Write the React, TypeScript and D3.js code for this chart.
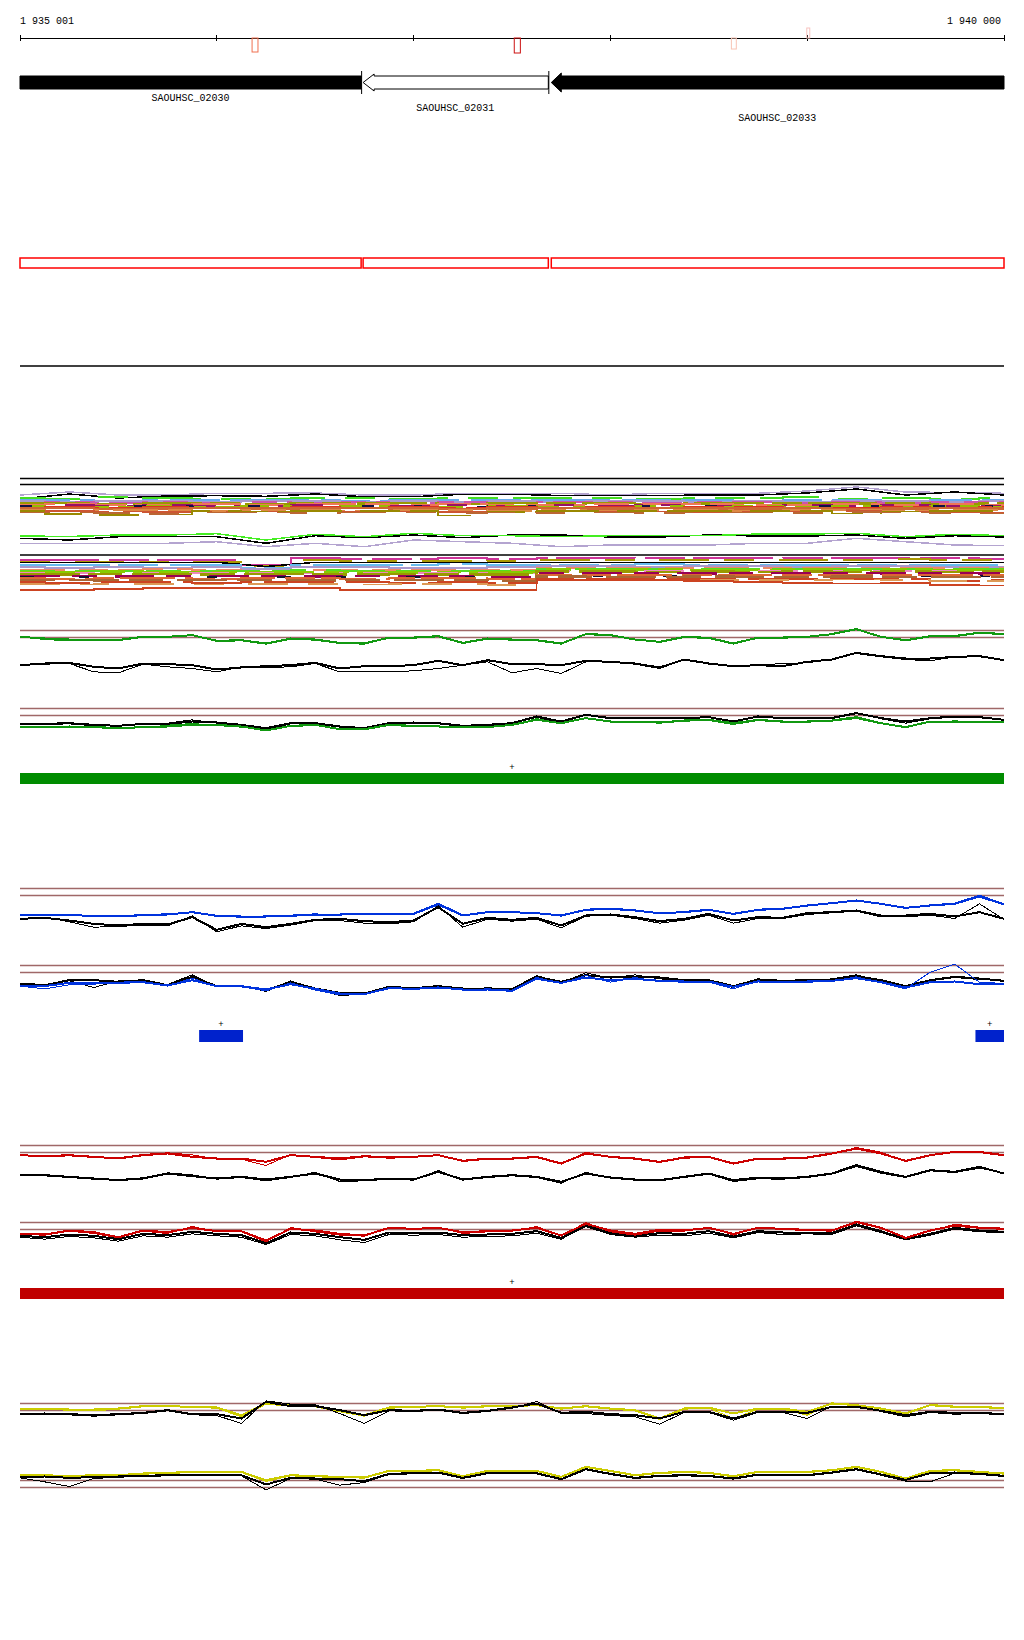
import React from 'react';
import * as d3 from 'd3';

// ==== view window and axis

const VIEW_START = 1935001;
const VIEW_END = 1940000;
const tickValues = [1935001, 1936000, 1937000, 1938000, 1939000, 1940000];
const endLabels = ['1 935 001', '1 940 000'];

// ==== genes and small features

const geneNames = ['SAOUHSC_02030', 'SAOUHSC_02031', 'SAOUHSC_02033'];
const geneStarts = [1934200, 1936739, 1937695];
const geneEnds = [1936734, 1937685, 1940600];
const geneFilled = [true, false, true];

const markerStarts = [1936180, 1937512, 1938615, 1938998];
const markerEnds = [1936210, 1937543, 1938640, 1939013];

const greenFeatStarts = [1935001];
const greenFeatEnds = [1940000];
const blueFeatStarts = [1935911, 1939855];
const blueFeatEnds = [1936134, 1940000];
const redFeatStarts = [1935001];
const redFeatEnds = [1940000];

// ==== signal tracks, 41 readings each (depth under upper reference, 1/3 px units)

const gAcol = [19,24,27,27,29,19,19,14,31,29,39,24,27,37,39,21,21,17,37,24,27,29,39,11,14,27,34,19,22,39,21,21,19,11,-4,19,29,17,17,7,11];
const gAcolThin = [19,27,31,31,27,17,21,12,33,31,41,26,29,39,41,23,23,19,39,26,29,31,41,9,12,27,36,21,24,41,23,23,21,9,-6,19,31,19,15,5,9];
const gAblk = [104,99,97,109,114,99,101,104,117,111,107,104,97,114,107,107,104,91,104,89,101,101,104,91,94,99,111,87,99,107,104,107,94,87,67,77,84,84,79,77,89];
const gAblkThin = [104,101,99,124,127,101,109,114,124,109,111,109,99,124,124,124,121,114,104,94,127,114,129,94,94,101,114,87,101,107,104,99,97,87,69,79,87,91,79,79,89];

const gBblk = [46,46,44,49,52,46,46,39,42,49,59,44,44,54,59,44,42,44,52,49,44,24,39,19,29,29,29,29,26,39,24,29,29,29,14,29,39,29,24,26,34];
const gBblkThin = [44,48,46,52,50,48,44,34,44,52,64,46,46,56,62,46,44,46,54,51,46,26,44,17,31,27,31,31,24,43,22,31,31,27,12,31,44,31,26,28,32];
const gBcol = [56,56,54,56,59,56,54,49,49,54,66,52,49,62,62,49,52,54,56,56,49,34,44,29,39,39,42,36,34,44,34,39,39,36,26,44,56,39,39,39,42];
const gBcolThin = [54,58,56,54,57,58,50,45,51,56,64,54,51,60,64,51,54,52,58,54,51,30,46,27,41,41,44,38,36,48,36,41,41,38,30,46,54,41,37,41,40];

const bAcol = [79,80,80,82,84,80,78,71,82,84,84,82,78,78,76,76,76,48,81,71,71,74,81,64,61,66,74,71,64,76,64,61,51,44,36,46,58,51,46,24,48];
const bAcolThin = [77,80,82,80,82,78,76,70,84,86,82,80,76,80,74,74,74,44,79,73,73,72,83,62,59,64,76,69,62,78,62,59,53,42,38,44,60,49,44,20,46];
const bAblk = [91,88,96,106,111,106,108,86,124,106,116,106,94,91,98,101,96,56,106,88,94,88,111,81,78,86,98,91,76,96,86,88,74,71,66,81,81,76,84,71,91];
const bAblkThin = [93,86,100,116,114,110,112,82,130,112,120,110,96,96,104,106,100,52,116,92,98,92,118,83,80,90,104,95,80,104,90,90,78,73,68,85,85,80,90,46,93];

const bBblk = [54,59,44,44,49,44,59,34,62,62,74,49,69,82,84,64,69,62,69,69,72,34,49,29,36,34,36,44,44,62,42,46,44,42,32,44,62,44,34,39,46];
const bBblkThin = [56,57,46,66,46,46,57,28,64,60,78,46,71,90,86,62,67,60,71,67,70,30,52,22,38,28,40,46,46,66,40,48,46,40,28,48,66,46,36,42,44];
const bBcol = [62,62,52,52,52,50,60,44,62,62,72,56,70,84,86,68,70,66,72,72,76,40,52,36,44,40,46,48,48,64,48,50,48,46,38,50,66,50,48,56,56];
const bBcolThin = [62,70,58,56,50,48,62,38,64,64,76,52,74,88,86,66,72,64,74,70,74,36,54,30,50,36,48,50,50,70,46,52,50,48,34,52,70,20,-4,50,54];

const rAcol = [29,32,29,34,39,29,24,34,39,39,49,29,34,39,32,36,34,29,46,39,39,34,54,24,34,39,49,36,34,54,39,39,36,24,9,24,46,29,19,19,29];
const rAcolThin = [29,34,31,36,37,27,22,28,41,41,60,27,36,43,34,38,36,27,48,41,41,36,56,20,36,41,51,38,36,56,41,41,38,26,6,20,48,31,17,21,31];
const rAblk = [89,89,94,99,104,99,84,92,99,94,102,94,84,102,104,99,102,79,102,94,89,94,109,84,96,102,104,94,84,104,96,99,94,84,59,79,94,74,79,64,84];
const rAblkThin = [87,91,96,101,102,97,82,88,101,96,106,96,80,108,106,101,104,75,104,96,91,96,113,80,98,104,106,96,86,108,100,101,96,86,63,83,96,76,81,68,82];

const rBcol = [34,36,24,29,44,24,29,16,26,26,54,19,24,34,39,16,19,16,29,26,24,16,39,4,24,34,22,24,16,34,16,19,22,24,-1,16,46,24,9,16,19];
const rBcolThin = [36,38,26,33,46,26,33,12,28,28,58,15,28,38,41,14,21,14,33,28,26,12,41,0,28,38,26,26,14,38,14,21,24,26,-4,14,48,26,5,14,17];
const rBblk = [40,44,36,40,50,34,38,28,34,38,62,30,34,44,52,30,32,30,38,36,34,26,46,8,32,40,32,34,26,42,26,30,30,32,6,26,50,34,16,24,28];
const rBblkThin = [44,50,42,46,56,40,44,34,40,44,66,36,40,52,60,36,38,36,44,42,40,32,50,12,36,44,38,40,32,46,30,36,34,36,10,30,52,38,20,28,30];

const yAcol = [15,15,18,18,15,8,8,10,12,35,0,5,8,20,35,12,10,8,12,8,8,5,15,8,15,20,45,15,12,30,15,15,25,0,5,15,30,5,10,10,15];
const yAcolThin = [18,18,20,22,17,10,6,12,14,40,2,8,10,25,38,14,12,6,14,10,6,3,17,10,17,22,48,17,14,45,17,17,35,-2,3,17,32,3,8,8,13];
const yAblk = [32,30,32,35,32,28,20,32,32,45,-5,8,8,20,35,20,22,18,28,22,12,0,28,25,32,35,45,25,25,45,25,25,28,10,10,22,35,25,28,28,32];
const yAblkThin = [32,32,34,38,34,30,22,34,36,60,-8,2,4,30,60,22,24,20,30,24,14,-6,30,30,36,40,62,27,27,50,27,27,45,8,8,24,40,27,32,30,34];

const yBcol = [-16,-16,-13,-16,-16,-21,-23,-26,-26,-26,-1,-16,-13,-11,-9,-29,-29,-31,-13,-29,-29,-29,-11,-41,-29,-16,-23,-26,-23,-13,-26,-26,-26,-31,-41,-26,-6,-29,-31,-26,-21];
const yBcolThin = [-14,-14,-11,-14,-14,-19,-21,-24,-24,-24,3,-14,-11,-9,-7,-27,-27,-29,-11,-27,-27,-27,-9,-39,-27,-14,-21,-24,-21,-11,-24,-24,-24,-29,-39,-24,-4,-27,-29,-24,-19];
const yBblk = [-10,-12,-8,-10,-12,-14,-16,-18,-18,-16,12,-8,-6,-4,2,-20,-22,-24,-8,-22,-22,-22,-4,-34,-20,-8,-14,-16,-14,-6,-18,-18,-16,-24,-34,-18,-2,-22,-24,-20,-14];
const yBblkThin = [-8,4,18,-6,-10,-12,-14,-16,-16,-14,28,-6,-4,14,6,-18,-20,-22,-6,-20,-20,-20,-2,-32,-18,-6,-12,-14,-12,-4,-16,-16,-14,-22,-32,-16,2,4,-22,-18,-12];

// ==== dense expression bands, 21 readings each (px under band top)

const b1lavTop = [5,2,5,5,3.3,3.3,3,5,5,3.3,3.3,3.3,5,3.3,3.3,3.3,1,-3,2,2.5,3.3];
const b1black = [9,4,8,6,5.7,6.3,4,6.7,6.7,4.3,4.3,5.5,5.5,5.5,5,5,3,-1,5,2,5];
const b1green = [8,8.5,7,8,9,8.5,8,8,9,8,7.5,8,7.5,8.5,8,8,7,8.5,8,9,8];
const b1blue = [9.5,10,10.5,9.5,10,10,9.5,10.5,9.5,10,10,9.5,10,9.5,9.5,10.5,10,10,10.5,9.5,10];
const b1lav = [11,11.5,10.5,11,11.5,11,11,11.5,11,12,11,11.5,11,11,11.5,11,12,10.5,11,11.5,11];
const b1pink = [12.5,12,13,12,12.5,12,12.5,12,13,12,12.5,12,12,12.5,12,12,13,12,12.5,12,12];
const b1olive = [13.5,13,14,13.5,13,14,13,13.5,13,14,13,13.5,13,14,13.5,13,13,13.5,13,14,13.5];
const b1salmon = [14.5,14,14.5,15,14,14.5,14,14,14.5,14,15,14.5,14,14,14,14.5,15,14,14.5,14,14.5];
const b1plum = [15.5,15,15.5,15,16,15.5,15,15.5,16,15,15.5,15,15.5,15,16,15.5,15,15.5,15,15.5,16];
const b1lime = [16,16.5,16.5,16,16.5,16,17,16,16.5,16.5,16,17,16.5,16,16.5,16,17,16,16.5,16,16.5];
const b1navy = [16,16.5,16,16,16.5,16,16.5,16,16,16.5,16,16,16.5,16,16,16.5,16,16,16.5,16,16];
const b1red = [17.5,17,17.5,17,17.5,17.5,17,17.5,17,17.5,17,17.5,17,17.5,17,17,17.5,17.5,17,17.5,17];
const b1orange = [18.5,18,19,18.5,18,18.5,18.5,18,18.5,19,18.5,18,18.5,18,18.5,18.5,18,19,18.5,18,18.5];
const b1tan = [20,20.5,20,20,20.5,20,20,20.5,20,20,20.5,20,20.5,20,20,20.5,20,20,20.5,20,20];
const b1rust = [21.5,21,21.5,22,21.5,21.5,21,21.5,21.5,22,21.5,21,21.5,21.5,22,21.5,21.5,21,21.5,22,22.5];
const b1olive2 = [21,24,25,24.5,21,21.5,21,21,21,25.5,22,21,21,21,21,21,21,23.5,21.5,21,21];
const b1brown = [22.5,22.5,23,24,22.5,22.5,23,22.5,22.5,23,22.5,23,22.5,23,22.5,22.5,23,22,22.5,23,23.5];

const midGreen = [46,46.5,45,45,43.7,50,44.3,46.7,43.3,45.7,45.7,46.7,45.7,45.7,45.7,44,44,43.3,46.7,44.3,45.7];
const midBlack = [48.3,50,46.7,46.7,46.7,53.3,45.7,47.7,45,47.7,45,45,47,47,45,46,46,45,48.3,45.7,47];
const midLav = [53.3,53.3,53.3,53.3,51.7,56.7,53.3,56.7,50,51.7,53.3,56.7,55,55,55,53.3,53.3,48.3,51.7,55,55.7];

const b2magenta = [5,4.5,5,4.5,5,10,3,3.5,3.5,3,3.5,2.7,2.7,3,2.7,3,2.7,3,2.7,3,3.5];
const b2olive = [6.5,7,6.5,7,6.5,11,5,5.5,5.5,6,5.5,4.5,5,4.5,5,5,4.5,4.5,4,4.5,5];
const b2black = [7.3,7.3,7.3,7.3,7.3,11.5,7.3,7.3,7.3,7.3,7.3,7.3,7.3,7.3,7.3,7.3,7.3,7.3,7.3,7.3,7.3];
const b2blue = [9.5,9.5,9.5,10,9.5,12.5,9.5,9.5,10,9,9.5,9.5,9.5,9,9.5,9.5,10,9.5,9.5,10,9.5];
const b2lav = [12,12.5,12,13,12,14,11.5,12,12.5,13,12,11,11,11.5,11,11,11.5,11,11,12,11.5];
const b2salmon = [14.5,15,14.5,14,15,15.5,14.5,15,14.5,15,15,12.5,12.5,13,12.5,13,12.5,13,12.5,13,13];
const b2green = [15.5,16,15.5,16,15.5,16,15,16,15.5,16,16,13.5,14,13.5,14,13.5,14,14,13.5,14,13.5];
const b2lime = [17,17,16.5,17,17,17.5,17,17,17.5,17,17.5,14.5,15,14.5,15,15,14.5,15,14.5,15,15];
const b2pink = [18,18,18.5,18,18,18,18.5,18,18,18,18.5,16,15.5,16,15.5,16,16,15.5,16,16,16];
const b2olive2 = [19,19.5,19,19,19.5,19,19,19.5,19,19.5,19.5,16.5,16.5,17,16.5,17,16.5,17,16.5,17,16.5];
const b2plum = [21,21,21.5,21,21,21,21.5,21,21.5,21,22,18,18,18,18.5,18,18,18,18.5,18,18.5];
const b2navy = [22,22,22,22.5,22,22,22,22,22,22,22,21,21,21,21,21,21,21,21,21,21];
const b2orange = [23,23.5,23,23,23.5,23,23,23.5,23,23,24,19.5,20,20,19.5,20,20,19.5,20,20,20];
const b2brown = [25,25,25.5,25,25,25,25.5,25,25,25.5,26,21.5,22,22,21.5,22,22,21.5,22,22,22];
const b2rust = [27,27.5,27,27,27.5,27,27,27,27.5,27,28,23.5,23.5,24,23.5,24,23.5,24,24,25.5,25];
const b2tan = [29,29.5,29,29,29.5,29,29,29.5,29,29,30,24.5,25,25,24.5,25,25,24.5,25,26,26];
const b2red = [35,35,34,33,33,33,33,35,35,35,35,25,25,25,26,27,28,28.3,28,30,30.7];

// ====

const LEFT = 20;
const RIGHT = 1004;
const MONO = '"Liberation Mono", "DejaVu Sans Mono", monospace';
const REF = '#a06868';
const GREEN = '#119911';
const BLUE = '#0033dd';
const RED = '#cc0000';
const YELLOW = '#cccc00';

const x = d3.scaleLinear().domain([VIEW_START, VIEW_END]).range([LEFT, RIGHT]);

const knotX = (n) => {
    const bp = d3.scaleLinear().domain([0, n - 1]).range([VIEW_START, VIEW_END]);
    return (i) => x(bp(i));
};

const signalTracks = [
    { top: 630.5, lines: [[gAblkThin, '#000', 1], [gAblk, '#000', 2], [gAcolThin, GREEN, 1], [gAcol, GREEN, 2]] },
    { top: 708.5, lines: [[gBblkThin, '#000', 1], [gBblk, '#000', 2], [gBcolThin, GREEN, 1], [gBcol, GREEN, 2]] },
    { top: 888.5, lines: [[bAcolThin, BLUE, 1], [bAcol, BLUE, 2], [bAblkThin, '#000', 1], [bAblk, '#000', 2]] },
    { top: 965.5, lines: [[bBblkThin, '#000', 1], [bBblk, '#000', 2], [bBcolThin, BLUE, 1], [bBcol, BLUE, 2]] },
    { top: 1145.5, lines: [[rAcolThin, RED, 1], [rAcol, RED, 2], [rAblkThin, '#000', 1], [rAblk, '#000', 2]] },
    { top: 1222.5, lines: [[rBblkThin, '#000', 1], [rBblk, '#000', 2], [rBcolThin, RED, 1], [rBcol, RED, 2]] },
    { top: 1403.5, lines: [[yAcolThin, YELLOW, 1], [yAcol, YELLOW, 2], [yAblkThin, '#000', 1], [yAblk, '#000', 2]] },
    { top: 1480.5, lines: [[yBcolThin, YELLOW, 1], [yBcol, YELLOW, 2], [yBblkThin, '#000', 1], [yBblk, '#000', 2]] }
];

const bandOne = [
    [b1lavTop, '#b4a4d0', 1.5, null, d3.curveLinear],
    [b1black, '#000', 1.5, null, d3.curveLinear],
    [b1green, '#44dd22', 2, '60 20 30 15', d3.curveStep],
    [b1blue, '#66aaee', 2, '50 10 80 12', d3.curveStep],
    [b1lav, '#a899cc', 2, null, d3.curveStep],
    [b1pink, '#cc55aa', 2, '40 15 25 10', d3.curveStep],
    [b1olive, '#999900', 2.5, '70 8 30 6', d3.curveStep],
    [b1salmon, '#ee7755', 2, '35 12 60 9', d3.curveStep],
    [b1plum, '#991166', 2, '20 25 45 18', d3.curveStep],
    [b1lime, '#99bb00', 2, '55 14 20 9', d3.curveStep],
    [b1navy, '#111144', 1.5, '12 40 8 55', d3.curveStep],
    [b1red, '#dd3322', 2, '80 10', d3.curveStep],
    [b1orange, '#cc6633', 2.5, null, d3.curveStep],
    [b1tan, '#dd8844', 2, '45 10 25 14', d3.curveStep],
    [b1rust, '#cc5533', 1.5, '90 14', d3.curveStep],
    [b1olive2, '#998800', 1.5, '65 18 40 10', d3.curveStep],
    [b1brown, '#bb6633', 1.5, '30 30 50 20', d3.curveStep]
];

const bandMid = [
    [midLav, '#b4a4d0', 1.5],
    [midBlack, '#000', 1.5],
    [midGreen, '#44ee22', 1.5]
];

const bandTwo = [
    [b2magenta, '#cc3399', 2, '80 10 40 8', d3.curveStep],
    [b2olive, '#aa9900', 2, '30 25 50 15', d3.curveStep],
    [b2black, '#000', 1.5, null, d3.curveLinear],
    [b2blue, '#66bbee', 2, '90 8 40 12', d3.curveStep],
    [b2lav, '#aa99cc', 2, null, d3.curveStep],
    [b2salmon, '#ee8866', 2, '45 14 30 10', d3.curveStep],
    [b2green, '#55dd22', 2, '35 20 60 12', d3.curveStep],
    [b2lime, '#88cc00', 2.5, '70 10 25 8', d3.curveStep],
    [b2pink, '#ee88bb', 1.5, '25 30 40 20', d3.curveStep],
    [b2olive2, '#999900', 2.5, '60 8 35 10', d3.curveStep],
    [b2plum, '#990055', 2.5, '40 12 25 18', d3.curveStep],
    [b2navy, '#111133', 2, '14 45 10 60', d3.curveStep],
    [b2orange, '#dd6633', 2, '55 10 30 6', d3.curveStep],
    [b2brown, '#aa6633', 2.5, '35 14 50 10', d3.curveStep],
    [b2rust, '#cc4422', 2, '70 12', d3.curveStep],
    [b2tan, '#dd9955', 1.5, '40 20 30 25', d3.curveStep],
    [b2red, '#cc4422', 1.5, null, d3.curveStep]
];

// ====

const SignalTrack = ({ top, lines }) => {
    const y = d3.scaleLinear().domain([0, 21]).range([top, top + 7]);
    return (
        <g>
            {[0, 21].map((v) => (
                <line key={v} x1={LEFT} x2={RIGHT} y1={y(v)} y2={y(v)} stroke={REF} strokeWidth={1.5} />
            ))}
            {lines.map(([vals, color, w], k) => {
                const kx = knotX(vals.length);
                const path = d3.line().x((_, i) => kx(i)).y((d) => y(d))(vals);
                return <path key={k} d={path} fill="none" stroke={color} strokeWidth={w} shapeRendering="crispEdges" />;
            })}
        </g>
    );
};

const Band = ({ top, lines }) => {
    const y = d3.scaleLinear().domain([0, 10]).range([top, top + 10]);
    return (
        <g>
            {lines.map(([vals, color, w, dash, curve], k) => {
                const kx = knotX(vals.length);
                const path = d3.line().x((_, i) => kx(i)).y((d) => y(d)).curve(curve || d3.curveLinear)(vals);
                return (
                    <path key={k} d={path} fill="none" stroke={color} strokeWidth={w}
                        strokeDasharray={dash || undefined} shapeRendering="crispEdges" />
                );
            })}
        </g>
    );
};

const FeatureBar = ({ starts, ends, top, height, color }) => (
    <g>
        {starts.map((s, i) => {
            const x0 = x(Math.max(s, VIEW_START));
            const x1 = x(Math.min(ends[i], VIEW_END));
            return (
                <g key={i}>
                    <text x={(x0 + x1) / 2} y={top - 3} fontFamily={MONO} fontSize={9} textAnchor="middle">+</text>
                    <rect x={x0} y={top} width={x1 - x0} height={height} fill={color} />
                </g>
            );
        })}
    </g>
);

const Gene = ({ i }) => {
    const s = Math.max(geneStarts[i], VIEW_START);
    const e = Math.min(geneEnds[i], VIEW_END);
    const x0 = x(s);
    const x1 = x(e);
    const yTop = 76;
    const yBot = 89;
    const mid = (yTop + yBot) / 2;
    const head = geneStarts[i] >= VIEW_START;
    const filled = geneFilled[i];
    const hx = x0 + (filled ? 11 : 12);
    const pts = head
        ? [[x0 + 1, mid], [hx, yTop - (filled ? 3 : 2)], [hx, yTop], [x1, yTop], [x1, yBot], [hx, yBot], [hx, yBot + (filled ? 3 : 2)]]
        : [[x0, yTop], [x1, yTop], [x1, yBot], [x0, yBot]];
    const labelX = (x0 + x1) / 2;
    return (
        <g>
            <polygon points={pts.map((p) => p.join(',')).join(' ')}
                fill={filled ? '#000' : '#fff'} stroke="#000" strokeWidth={1} />
            <text x={labelX} y={101 + i * 10} fontFamily={MONO} fontSize={10} textAnchor="middle">{geneNames[i]}</text>
        </g>
    );
};

const markerStyle = [
    { color: '#f07050', y0: 38, h: 14 },
    { color: '#cc1111', y0: 38, h: 15 },
    { color: '#f8c4b4', y0: 38, h: 11 },
    { color: '#f8c4c0', y0: 28, h: 10 }
];

export default function App() {
    const boxY = 258;

    return (
        <svg width={1024} height={1640} style={{ position: 'absolute', left: 0, top: 0, background: '#fff' }}>
            {/* coordinate ruler */}
            <text x={LEFT} y={24} fontFamily={MONO} fontSize={10}>{endLabels[0]}</text>
            <text x={1001} y={24} fontFamily={MONO} fontSize={10} textAnchor="end">{endLabels[1]}</text>
            <line x1={LEFT} x2={RIGHT} y1={38} y2={38} stroke="#000" strokeWidth={1} shapeRendering="crispEdges" />
            {tickValues.map((t) => (
                <line key={t} x1={x(t)} x2={x(t)} y1={35} y2={41} stroke="#000" strokeWidth={1} shapeRendering="crispEdges" />
            ))}
            {markerStarts.map((s, i) => (
                <rect key={i} x={x(s)} y={markerStyle[i].y0} width={Math.max(3, x(markerEnds[i]) - x(s))}
                    height={markerStyle[i].h} fill="none" stroke={markerStyle[i].color} strokeWidth={1} />
            ))}

            {/* genes */}
            {[0, 1, 2].map((i) => <Gene key={i} i={i} />)}
            {[geneEnds[0], geneEnds[1]].map((e, i) => (
                <line key={i} x1={x(e) + 0.5} x2={x(e) + 0.5} y1={71} y2={94} stroke="#000" strokeWidth={1} />
            ))}

            {/* gene boxes */}
            {geneStarts.map((s, i) => {
                const x0 = x(Math.max(s, VIEW_START));
                const x1 = x(Math.min(geneEnds[i], VIEW_END));
                return <rect key={i} x={x0 + (i ? 1 : 0)} y={boxY} width={x1 - x0 - (i ? 1 : 0)} height={10}
                    fill="none" stroke="#ff0000" strokeWidth={1.5} />;
            })}

            <line x1={LEFT} x2={RIGHT} y1={366} y2={366} stroke="#000" strokeWidth={1.5} />
            <line x1={LEFT} x2={RIGHT} y1={478.5} y2={478.5} stroke="#000" strokeWidth={1.5} />
            <line x1={LEFT} x2={RIGHT} y1={484.5} y2={484.5} stroke="#000" strokeWidth={1.5} />

            {/* dense expression bands */}
            <Band top={490} lines={bandOne} />
            <Band top={490} lines={bandMid} />
            <line x1={LEFT} x2={RIGHT} y1={555} y2={555} stroke="#000" strokeWidth={1.5} />
            <Band top={555} lines={bandTwo} />

            {/* signal tracks */}
            {signalTracks.map((t, i) => <SignalTrack key={i} top={t.top} lines={t.lines} />)}

            <FeatureBar starts={greenFeatStarts} ends={greenFeatEnds} top={773} height={11} color="#008c00" />
            <FeatureBar starts={blueFeatStarts} ends={blueFeatEnds} top={1030} height={12} color="#0022cc" />
            <FeatureBar starts={redFeatStarts} ends={redFeatEnds} top={1288} height={11} color="#c00000" />
        </svg>
    );
}
